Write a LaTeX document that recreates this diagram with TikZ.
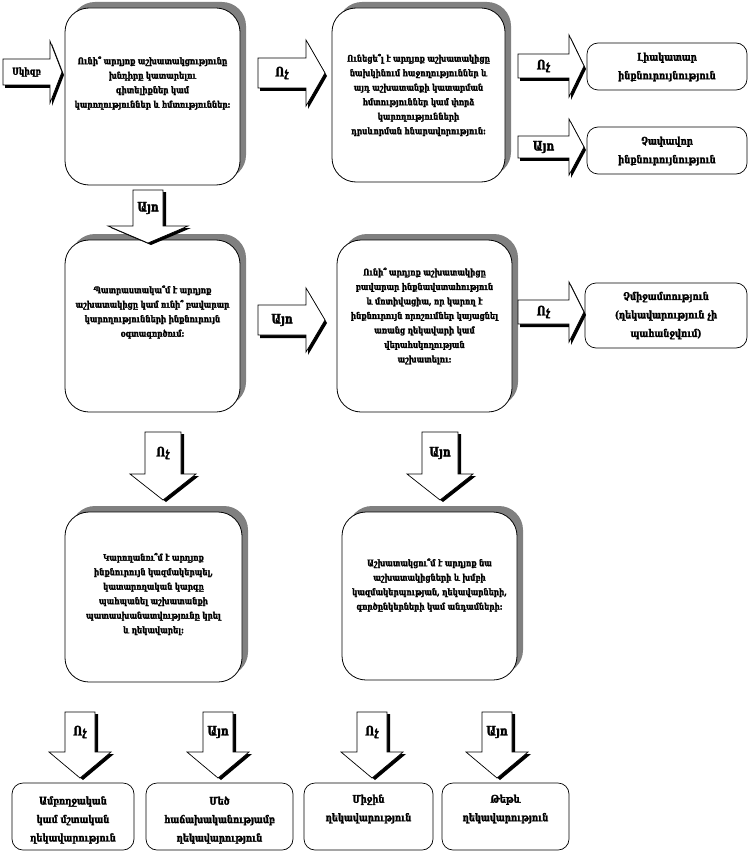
\documentclass[tikz,border=0pt]{standalone}
\usepackage{fontspec}
\setmainfont{DejaVu Serif}[FakeStretch=0.8, BoldFeatures={FakeBold=2.2}]
\usetikzlibrary{shadows}
\tikzset{
  qbox/.style={draw=black, line width=0.8pt, fill=white, rounded corners=24pt, inner sep=0pt,
    general shadow={fill=black!50, shadow xshift=6pt, shadow yshift=6pt}},
  qtext/.style={align=center, inner sep=0pt, font=\bfseries\fontsize{9}{14.5}\selectfont},
  obox/.style={draw=black, line width=0.7pt, fill=white, rounded corners=11pt, inner sep=0pt},
  otext/.style={align=center, inner sep=0pt, font=\bfseries\fontsize{10.5}{18.5}\selectfont},
  blk/.style={fill=white, draw=black, line width=0.7pt, line join=miter},
  blkshadow/.style={fill=black},
  alab/.style={font=\bfseries\fontsize{13}{13}\selectfont, inner sep=0pt},
}
% right block arrow: name, x0, xh, x1, cy, body half, head half, label
\newcommand\myrarr[8]{%
  \begin{scope}[shift={(2pt,-3pt)}]
    \fill[blkshadow] ({#2},{#5-#6}) -- ({#3},{#5-#6}) -- ({#3},{#5-#7}) -- ({#4},{#5})
      -- ({#3},{#5+#7}) -- ({#3},{#5+#6}) -- ({#2},{#5+#6}) -- cycle;
  \end{scope}
  \draw[blk] ({#2},{#5-#6}) -- ({#3},{#5-#6}) -- ({#3},{#5-#7}) -- ({#4},{#5})
      -- ({#3},{#5+#7}) -- ({#3},{#5+#6}) -- ({#2},{#5+#6}) -- cycle;
  \node[alab] (#1) at ({(#2+#3)/2},{#5}) {#8};
}
% down block arrow: name, cx, y0, yh, y1, body half, head half, label
\newcommand\mydarr[8]{%
  \begin{scope}[shift={(3pt,-2pt)}]
    \fill[blkshadow] ({#2-#6},{#3}) -- ({#2+#6},{#3}) -- ({#2+#6},{#4}) -- ({#2+#7},{#4})
      -- ({#2},{#5}) -- ({#2-#7},{#4}) -- ({#2-#6},{#4}) -- cycle;
  \end{scope}
  \draw[blk] ({#2-#6},{#3}) -- ({#2+#6},{#3}) -- ({#2+#6},{#4}) -- ({#2+#7},{#4})
      -- ({#2},{#5}) -- ({#2-#7},{#4}) -- ({#2-#6},{#4}) -- cycle;
  \node[alab] (#1) at ({#2},{(#3+#4)/2}) {#8};
}
\begin{document}
\begin{tikzpicture}[x=1pt,y=-1pt]
\useasboundingbox[fill=white] (0,0) rectangle (750,853);

% question boxes
\node[qbox, minimum width=175pt, minimum height=177pt] (A) at (152.5,96.5) {};
\node[qtext] (At) at (152.5,83) {Ունի՞ արդյոք աշխատակցությունը\\ խնդիրը կատարելու\\ գիտելիքներ կամ\\ կարողություններ և հմտություններ:};

\node[qbox, minimum width=173pt, minimum height=174pt] (B) at (418.5,95) {};
\node[qtext] (Bt) at (418.5,95) {Ունեցե՞լ է արդյոք աշխատակիցը\\ նախկինում հաջողություններ և\\ այդ աշխատանքի կատարման\\ հմտություններ կամ փորձ\\ կարողությունների\\ դրսևորման հնարավորություն:};

\node[qbox, minimum width=175pt, minimum height=172pt] (C) at (152.5,326) {};
\node[qtext] (Ct) at (152.5,312) {Պատրաստակա՞մ է արդյոք\\ աշխատակիցը կամ ունի՞ բավարար\\ կարողությունների ինքնուրույն\\ օգտագործում:};

\node[qbox, minimum width=175pt, minimum height=172pt] (D) at (424.5,326) {};
\node[qtext] (Dt) at (424.5,316) {Ունի՞ արդյոք աշխատակիցը\\ բավարար ինքնավստահություն\\ և մոտիվացիա, որ կարող է\\ ինքնուրույն որոշումներ կայացնել\\ առանց ղեկավարի կամ\\ վերահսկողության\\ աշխատելու:};

\node[qbox, minimum width=177pt, minimum height=170pt] (E) at (153.5,597) {};
\node[qtext] (Et) at (153.5,594) {Կարողանու՞մ է արդյոք\\ ինքնուրույն կազմակերպել,\\ կատարողական կարգը\\ պահպանել աշխատանքի\\ պատասխանատվությունը կրել\\ և ղեկավարել:};

\node[qbox, minimum width=175pt, minimum height=168pt] (F) at (429.5,596) {};
\node[qtext] (Ft) at (429.5,585) {Աշխատակցու՞մ է արդյոք նա\\ աշխատակիցների և խմբի\\ կազմակերպության, ղեկավարների,\\ գործընկերների կամ անդամների:};

% outcome boxes
\node[obox, minimum width=160pt, minimum height=47pt] (O1) at (667,66.5) {};
\node[otext] (O1t) at (667,67) {Լիակատար\\ ինքնուրույնություն};
\node[obox, minimum width=160pt, minimum height=47pt] (O2) at (667,150.5) {};
\node[otext] (O2t) at (667,151) {Չափավոր\\ ինքնուրույնություն};
\node[obox, minimum width=162pt, minimum height=65pt] (O3) at (666,315.5) {};
\node[otext] (O3t) at (666,315.5) {Չմիջամտություն\\ (ղեկավարություն չի\\ պահանջվում)};

\node[obox, minimum width=122pt, minimum height=67pt] (R1) at (73,816.5) {};
\node[otext] (R1t) at (73,820) {Ամբողջական\\ կամ մշտական\\ ղեկավարություն};
\node[obox, minimum width=147pt, minimum height=67pt] (R2) at (219.5,816.5) {};
\node[otext] (R2t) at (219.5,820) {Մեծ\\ հաճախականությամբ\\ ղեկավարություն};
\node[obox, minimum width=129pt, minimum height=67pt] (R3) at (368.5,816.5) {};
\node[otext] (R3t) at (368.5,809) {Միջին\\ ղեկավարություն};
\node[obox, minimum width=127pt, minimum height=67pt] (R4) at (505.5,816.5) {};
\node[otext] (R4t) at (505.5,809) {Թեթև\\ ղեկավարություն};

% block arrows
\myrarr{start}{3}{50}{62}{72}{13}{31}{\fontsize{9.5}{9.5}\selectfont Սկիզբ}
\myrarr{ab}{258}{306}{325}{73}{15}{33}{Ոչ}
\myrarr{bo1}{518}{569}{584}{66}{12}{31}{Ոչ}
\myrarr{bo2}{518}{569}{584}{147}{11}{28}{Այո}
\myrarr{cd}{258}{306}{325}{320}{15}{32}{Այո}
\myrarr{do3}{518}{569}{584}{312}{12}{30}{Ոչ}

\mydarr{ac}{148}{190}{226}{243}{15}{40}{Այո}
\mydarr{ce}{163}{432}{474}{500}{18}{33}{Ոչ}
\mydarr{df}{440}{432}{474}{500}{18}{33}{Այո}
\mydarr{er1}{80}{712}{752}{778}{15}{31}{Ոչ}
\mydarr{er2}{218}{712}{752}{778}{15}{31}{Այո}
\mydarr{fr3}{372}{712}{752}{778}{15}{31}{Ոչ}
\mydarr{fr4}{497}{712}{752}{778}{15}{31}{Այո}
\end{tikzpicture}
\end{document}
